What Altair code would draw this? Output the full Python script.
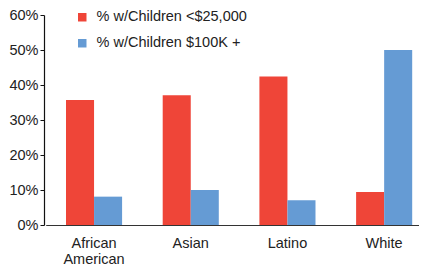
import altair as alt
import pandas as pd

groups = ["African American", "Asian", "Latino", "White"]
series = ["% w/Children <$25,000", "% w/Children $100K +"]
low_income = [0.357, 0.371, 0.424, 0.094]
high_income = [0.081, 0.100, 0.071, 0.500]
colors = ["#EF4538", "#659BD4"]

rows = []
for g, a, b in zip(groups, low_income, high_income):
    rows.append({"group": g, "series": series[0], "value": a})
    rows.append({"group": g, "series": series[1], "value": b})
df = pd.DataFrame(rows)

FONT = "Liberation Sans"

chart = alt.Chart(df).mark_bar().encode(
    x=alt.X("group:N", sort=groups, title=None,
            scale=alt.Scale(range=[1.7, 388.5], paddingInner=0.42, paddingOuter=0.21),
            axis=alt.Axis(labelAngle=0, ticks=False, domainColor="#333333", domainWidth=1.2,
                          labelFont=FONT, labelFontSize=14.5, labelColor="#222222",
                          labelPadding=11, labelLineHeight=16,
                          labelExpr="datum.label == 'African American' ? ['African', 'American'] : datum.label")),
    xOffset=alt.XOffset("series:N", sort=series, scale=alt.Scale(paddingInner=0, paddingOuter=0)),
    y=alt.Y("value:Q", title=None,
            scale=alt.Scale(domain=[0, 0.6], nice=False),
            axis=alt.Axis(format=".0%", values=[0, 0.1, 0.2, 0.3, 0.4, 0.5, 0.6], grid=False,
                          domainColor="#111111", domainWidth=1.2, tickColor="#111111", tickSize=4,
                          labelFont=FONT, labelFontSize=14.5, labelColor="#222222", labelPadding=2)),
    color=alt.Color("series:N", sort=series, scale=alt.Scale(domain=series, range=colors),
                    legend=alt.Legend(title=None, orient="none", legendX=31, legendY=-5,
                                      symbolType="square", symbolSize=72, symbolStrokeWidth=0,
                                      labelFont=FONT, labelFontSize=14.5, labelColor="#222222",
                                      labelOffset=7, rowPadding=11)),
).properties(
    width=375, height=210,
    autosize=alt.AutoSizeParams(type="none"),
    padding={"left": 36, "top": 7, "right": 0, "bottom": 40},
).configure_view(stroke=None)

chart.save("out.html", embed_options={"renderer": "svg", "actions": False})
